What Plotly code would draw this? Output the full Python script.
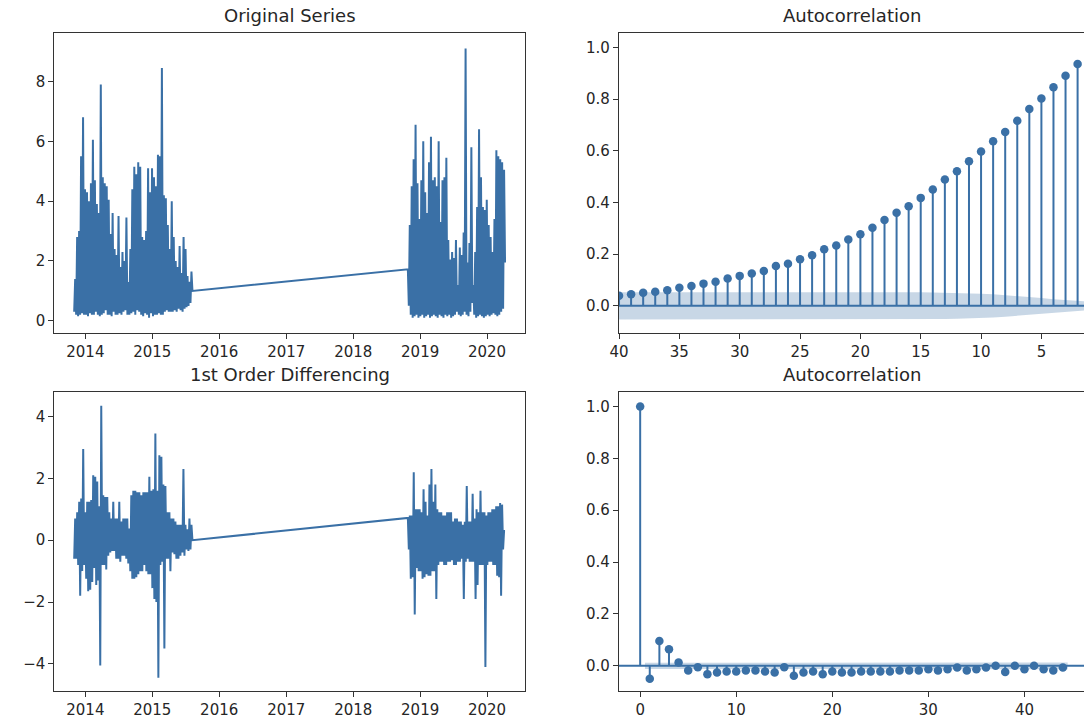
import numpy as np
import pandas as pd
import plotly.graph_objects as go

W, H = 1084, 719
BLUE = "#3a70a6"
BAND = "rgba(58,112,166,0.28)"
INK = "#262626"
FRAME = "#333333"
FONT = "DejaVu Sans"

# ---------------- time series (alternating low / high swings) ----------------
seg1_start, seg1_end = "2013-11-01", "2015-08-08"
seg2_start, seg2_end = "2018-10-26", "2020-04-08"

orig1_hi = [1.4, 2.8, 3.0, 5.5, 6.8, 4.4, 4.3, 4.0, 4.6, 6.05,
            4.7, 3.9, 3.6, 7.9, 4.8, 4.6, 4.5, 4.05, 2.9, 3.6,
            2.4, 2.2, 3.5, 1.8, 2.3, 2.0, 3.45, 1.3, 2.4, 4.4,
            5.15, 4.9, 5.3, 5.15, 2.8, 2.7, 3.0, 5.1, 4.3, 5.1,
            4.8, 4.5, 5.55, 5.5, 8.45, 4.2, 4.1, 3.2, 2.4, 4.0,
            2.8, 2.0, 1.8, 2.5, 1.6, 2.8, 2.4, 1.5, 1.3, 1.65]
orig1_lo = [0.3, 0.2, 0.15, 0.2, 0.25, 0.2, 0.2, 0.15, 0.25, 0.2,
            0.2, 0.3, 0.2, 0.15, 0.2, 0.25, 0.35, 0.2, 0.2, 0.15,
            0.3, 0.2, 0.2, 0.25, 0.2, 0.3, 0.35, 0.2, 0.2, 0.25,
            0.3, 0.2, 0.35, 0.3, 0.2, 0.15, 0.25, 0.2, 0.1, 0.25,
            0.15, 0.2, 0.2, 0.25, 0.2, 0.2, 0.3, 0.35, 0.3, 0.3,
            0.3, 0.35, 0.3, 0.4, 0.35, 0.3, 0.4, 0.45, 0.5, 0.6]
orig1_last = 1.0
orig2_first = 1.72
orig2_hi = [3.2, 4.5, 5.4, 6.55, 4.6, 3.4, 4.7, 6.0, 4.3, 3.6,
            5.3, 6.15, 4.7, 4.8, 4.5, 6.0, 3.3, 4.7, 4.8, 5.45,
            2.7, 2.05, 2.3, 2.1, 2.7, 1.2, 2.45, 2.2, 2.95, 9.1,
            1.95, 2.6, 5.8, 1.2, 2.3, 3.8, 6.4, 4.8, 3.8, 3.7,
            4.05, 3.2, 2.8, 2.3, 3.4, 5.7, 5.5, 5.4, 5.3, 5.05]
orig2_lo = [0.5, 0.2, 0.1, 0.15, 0.2, 0.1, 0.15, 0.2, 0.1, 0.15,
            0.2, 0.1, 0.15, 0.2, 0.15, 0.1, 0.2, 0.15, 0.1, 0.2,
            0.15, 0.2, 0.1, 0.15, 0.2, 0.3, 0.2, 0.15, 0.2, 0.3,
            0.2, 0.15, 0.3, 0.6, 0.2, 0.1, 0.15, 0.2, 0.15, 0.1,
            0.15, 0.2, 0.15, 0.2, 0.25, 0.2, 0.15, 0.2, 0.3, 0.4]
orig2_last = 1.95

diff1_hi = [0.7, 0.9, 1.24, 1.35, 2.95, 0.9, 1.24, 1.24, 1.3, 2.1,
            2.05, 1.9, 1.1, 4.35, 1.45, 1.4, 1.4, 0.9, 0.7, 1.24,
            0.7, 0.7, 1.24, 0.6, 0.7, 0.7, 0.7, 0.38, 1.45, 1.6,
            1.6, 1.55, 1.55, 1.45, 1.55, 1.55, 1.55, 2.05, 1.6, 1.65,
            3.45, 1.6, 2.75, 2.7, 1.8, 1.75, 0.9, 0.9, 0.7, 0.7,
            0.6, 0.5, 0.5, 0.5, 2.3, 0.5, 0.35, 0.7, 0.5]
diff1_lo = [-0.6, -0.6, -0.8, -1.8, -1.0, -0.8, -1.25, -1.65, -1.6, -1.35,
            -0.9, -1.45, -1.3, -4.05, -0.8, -0.8, -0.95, -0.5, -0.4, -0.35,
            -0.35, -0.6, -0.6, -0.7, -0.5, -0.5, -0.6, -0.75, -1.0, -1.25,
            -1.25, -1.2, -1.1, -1.0, -1.0, -0.8, -1.0, -1.1, -1.1, -1.55,
            -1.9, -2.0, -4.45, -0.8, -0.7, -3.5, -0.6, -0.6, -1.0, -0.4,
            -0.45, -0.6, -0.6, -0.5, -0.4, -0.5, -0.3, -0.35, -0.3]
diff1_last = 0.0
diff2_first = 0.72
diff2_hi = [0.8, 0.8, 2.2, 1.0, 1.0, 1.0, 0.9, 1.65, 1.24, 0.8,
            1.8, 2.3, 1.24, 1.8, 1.0, 0.9, 0.9, 0.8, 0.8, 0.9,
            0.9, 0.9, 0.6, 0.7, 0.7, 0.6, 0.6, 0.5, 0.6, 1.75,
            0.6, 0.6, 1.5, 0.7, 1.0, 0.9, 1.6, 0.9, 0.9, 0.8,
            0.9, 0.9, 1.0, 1.0, 1.1, 1.1, 1.2, 1.15, 0.3]
diff2_lo = [-0.3, -1.25, -1.2, -2.4, -0.9, -1.0, -1.0, -1.25, -1.2, -1.1,
            -1.15, -1.15, -1.0, -1.0, -1.9, -0.8, -0.7, -0.7, -0.8, -0.8,
            -0.7, -0.7, -0.65, -0.8, -0.8, -0.7, -0.7, -0.6, -1.9, -0.7,
            -0.6, -0.7, -0.7, -0.7, -1.9, -1.45, -0.8, -0.8, -0.8, -4.1,
            -0.8, -0.7, -0.7, -0.8, -0.8, -1.15, -1.2, -1.8, -0.3]
diff2_last = 0.3

year_ticks = ["2014", "2015", "2016", "2017", "2018", "2019", "2020"]

# ---------------- autocorrelation values ----------------
acf_orig = [1.0, 0.97, 0.936, 0.891, 0.846, 0.803, 0.762, 0.717, 0.673, 0.637,
            0.598, 0.56, 0.521, 0.489, 0.45, 0.418, 0.386, 0.36, 0.332, 0.302,
            0.277, 0.257, 0.234, 0.219, 0.196, 0.18, 0.163, 0.154, 0.135, 0.125,
            0.116, 0.106, 0.093, 0.086, 0.077, 0.07, 0.06, 0.055, 0.051, 0.045,
            0.039]
# half-width of the confidence band for lags 1..40
acf_orig_band = [0.014, 0.018, 0.022, 0.026, 0.03, 0.034, 0.038, 0.042, 0.045, 0.047,
                 0.049, 0.05, 0.051, 0.052, 0.053, 0.053, 0.053, 0.053, 0.053, 0.053,
                 0.053, 0.053, 0.053, 0.053, 0.053, 0.053, 0.053, 0.053, 0.053, 0.053,
                 0.053, 0.053, 0.053, 0.053, 0.053, 0.053, 0.053, 0.053, 0.053, 0.053]

acf_diff = [1.0, -0.05, 0.096, 0.064, 0.013, -0.018, -0.005, -0.032, -0.026, -0.022,
            -0.022, -0.018, -0.018, -0.022, -0.026, -0.005, -0.038, -0.026, -0.022, -0.032,
            -0.022, -0.026, -0.026, -0.022, -0.022, -0.022, -0.022, -0.018, -0.018, -0.018,
            -0.013, -0.018, -0.013, -0.006, -0.018, -0.013, -0.006, 0.0, -0.024, 0.0,
            -0.013, 0.0, -0.013, -0.018, -0.006]
# half-width of the confidence band for lags 1..44
acf_diff_band = [0.012, 0.012] + [0.013] * 42


def swing(lo, hi):
    out = []
    for a, b in zip(lo, hi):
        out += [a, b]
    return out


def series(lo1, hi1, last1, first2, lo2, hi2, last2):
    y1 = swing(lo1, hi1) + [last1]
    y2 = [first2] + swing(lo2, hi2) + [last2]
    x1 = pd.date_range(seg1_start, seg1_end, periods=len(y1))
    x2 = pd.date_range(seg2_start, seg2_end, periods=len(y2))
    return list(x1) + list(x2), y1 + y2


fig = go.Figure()


def px_x(a, b):
    return [a / W, b / W]


def px_y(top, bottom):
    return [1 - bottom / H, 1 - top / H]


LEFT_X = px_x(44.8, 520)
RIGHT_X = [614.7 / W, 1.0]
TOP_Y = px_y(33.3, 334.3)
BOT_Y = px_y(393.3, 693.3)

# original series
xo, yo = series(orig1_lo, orig1_hi, orig1_last, orig2_first, orig2_lo, orig2_hi, orig2_last)
fig.add_trace(go.Scatter(x=xo, y=yo, mode="lines", line=dict(color=BLUE, width=2),
                         xaxis="x", yaxis="y", showlegend=False))

# first-order differenced series
xd, yd = series(diff1_lo, diff1_hi, diff1_last, diff2_first, diff2_lo, diff2_hi, diff2_last)
fig.add_trace(go.Scatter(x=xd, y=yd, mode="lines", line=dict(color=BLUE, width=2),
                         xaxis="x3", yaxis="y3", showlegend=False))


def acf_panel(vals, band, xa, ya):
    lags = list(range(len(vals)))
    # confidence band spans lag 0.5 .. last lag + 0.5
    bx = [0.5] + [float(k) for k in lags[2:-1]] + [lags[-1] + 0.5]
    up = list(band)
    lo = [-b for b in band]
    fig.add_trace(go.Scatter(x=bx + bx[::-1], y=up + lo[::-1], fill="toself",
                             fillcolor=BAND, line=dict(width=0), mode="lines",
                             xaxis=xa, yaxis=ya, showlegend=False, hoverinfo="skip"))
    sx, sy = [], []
    for k, v in zip(lags, vals):
        sx += [k, k, None]
        sy += [0, v, None]
    fig.add_trace(go.Scatter(x=sx, y=sy, mode="lines", line=dict(color=BLUE, width=2),
                             xaxis=xa, yaxis=ya, showlegend=False))
    fig.add_trace(go.Scatter(x=lags, y=vals, mode="markers",
                             marker=dict(color=BLUE, size=8.5),
                             xaxis=xa, yaxis=ya, showlegend=False))
    fig.add_shape(type="line", xref=xa + " domain", yref=ya, x0=0, x1=1, y0=0, y1=0,
                  line=dict(color=BLUE, width=2))


acf_panel(acf_orig, acf_orig_band, "x2", "y2")
acf_panel(acf_diff, acf_diff_band, "x4", "y4")

axis_common = dict(showgrid=False, zeroline=False, showline=True, linecolor=FRAME,
                   linewidth=1.2, ticks="outside", ticklen=5, tickwidth=1.2,
                   tickcolor=FRAME, tickfont=dict(family=FONT, size=15, color=INK))

year_vals = [f"{y}-01-01" for y in year_ticks]

fig.update_layout(
    width=W, height=H, margin=dict(l=0, r=0, t=0, b=0),
    paper_bgcolor="white", plot_bgcolor="white", showlegend=False,
    xaxis=dict(domain=LEFT_X, anchor="y", type="date",
               range=["2013-07-16", "2020-07-27"], tickvals=year_vals,
               ticktext=year_ticks, mirror=True, **axis_common),
    yaxis=dict(domain=TOP_Y, anchor="x", range=[-0.42, 9.613],
               tickvals=[0, 2, 4, 6, 8], ticktext=["0", "2", "4", "6", "8"],
               mirror=True, **axis_common),
    xaxis2=dict(domain=RIGHT_X, anchor="y2", range=[40, 1.47],
                tickvals=[40, 35, 30, 25, 20, 15, 10, 5, 0],
                ticktext=["40", "35", "30", "25", "20", "15", "10", "5", "0"],
                mirror=True, **axis_common),
    yaxis2=dict(domain=TOP_Y, anchor="x2", range=[-0.1066, 1.0556],
                tickvals=[0, 0.2, 0.4, 0.6, 0.8, 1.0],
                ticktext=["0.0", "0.2", "0.4", "0.6", "0.8", "1.0"],
                mirror=False, **axis_common),
    xaxis3=dict(domain=LEFT_X, anchor="y3", type="date",
                range=["2013-07-16", "2020-07-27"], tickvals=year_vals,
                ticktext=year_ticks, mirror=True, **axis_common),
    yaxis3=dict(domain=BOT_Y, anchor="x3", range=[-4.89, 4.787],
                tickvals=[-4, -2, 0, 2, 4],
                ticktext=["\u22124", "\u22122", "0", "2", "4"],
                mirror=True, **axis_common),
    xaxis4=dict(domain=RIGHT_X, anchor="y4", range=[-2.2, 46.2],
                tickvals=[0, 10, 20, 30, 40],
                ticktext=["0", "10", "20", "30", "40"],
                mirror=True, **axis_common),
    yaxis4=dict(domain=BOT_Y, anchor="x4", range=[-0.0985, 1.055],
                tickvals=[0, 0.2, 0.4, 0.6, 0.8, 1.0],
                ticktext=["0.0", "0.2", "0.4", "0.6", "0.8", "1.0"],
                mirror=False, **axis_common),
)

titles = [("Original Series", 282.4, 28.5),
          ("Autocorrelation", 850, 28.5),
          ("1st Order Differencing", 282.4, 388.5),
          ("Autocorrelation", 850, 388.5)]
for text, cx, by in titles:
    fig.add_annotation(text=text, xref="paper", yref="paper", x=cx / W, y=1 - by / H,
                       xanchor="center", yanchor="bottom", showarrow=False,
                       font=dict(family=FONT, size=18, color=INK))

fig.write_html("out.html")
